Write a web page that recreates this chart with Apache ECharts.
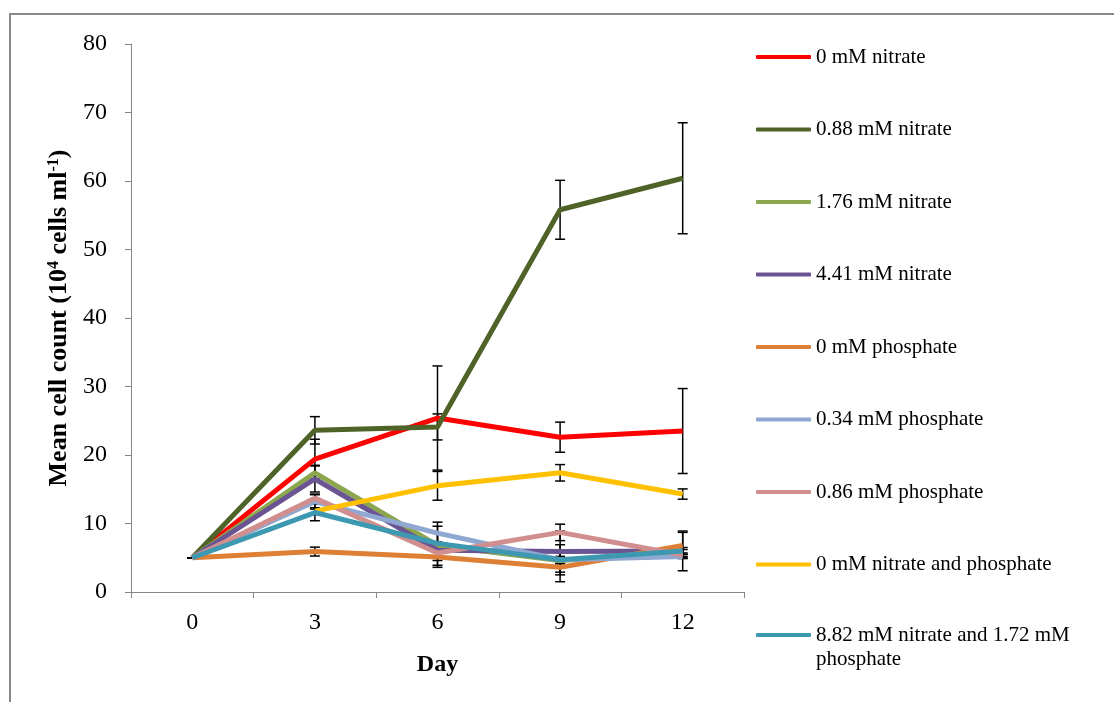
<!DOCTYPE html>
<html>
<head>
<meta charset="utf-8">
<script src="https://cdn.jsdelivr.net/npm/echarts@6/dist/echarts.min.js"></script>
<style>
html,body{margin:0;padding:0;background:#fff;}
#c{width:1114px;height:702px;}
</style>
</head>
<body>
<div id="c"></div>
<script>
// ---- data ----
var days = ['0', '3', '6', '9', '12'];
var yTicks = [0, 10, 20, 30, 40, 50, 60, 70, 80];

var names = [
  '0 mM nitrate',
  '0.88 mM nitrate',
  '1.76 mM nitrate',
  '4.41 mM nitrate',
  '0 mM phosphate',
  '0.34 mM phosphate',
  '0.86 mM phosphate',
  '0 mM nitrate and phosphate',
  '8.82 mM nitrate and 1.72 mM phosphate'
];

var nitrate0    = [5.0, 19.4, 25.4, 22.6, 23.5];
var nitrate088  = [5.0, 23.6, 24.1, 55.8, 60.4];
var nitrate176  = [5.0, 17.4, 6.8, 4.6, 5.7];
var nitrate441  = [5.0, 16.5, 6.1, 5.9, 6.0];
var phosphate0  = [5.0, 5.9, 5.1, 3.6, 6.8];
var phosphate034 = [5.0, 13.2, 8.6, 4.7, 5.2];
var phosphate086 = [5.0, 13.7, 5.7, 8.7, 5.4];
var bothZero    = [null, 11.8, 15.5, 17.4, 14.3];
var bothHigh    = [5.0, 11.6, 7.1, 4.7, 6.0];

var err_nitrate0    = [0, 2.9, 7.6, 2.2, 6.2];
var err_nitrate088  = [0, 2.0, 1.9, 4.3, 8.1];
var err_nitrate176  = [0, 1.1, 0.5, 0.5, 0.5];
var err_nitrate441  = [0, 1.9, 2.5, 3.0, 0.5];
var err_phosphate0  = [0, 0.65, 1.2, 2.1, 1.9];
var err_phosphate034 = [0, 1.1, 1.6, 0.5, 0.3];
var err_phosphate086 = [0, 0.5, 0.5, 1.2, 0.3];
var err_bothZero    = [0, 0.5, 2.1, 1.2, 0.75];
var err_bothHigh    = [0, 1.2, 2.5, 2.2, 2.9];

var colors = ['#FF0000', '#4F6228', '#8BA64D', '#6A5592', '#DD8036', '#8EA8D1', '#D18E8E', '#FFC000', '#3D99B1'];

var means = [nitrate0, nitrate088, nitrate176, nitrate441, phosphate0, phosphate034, phosphate086, bothZero, bothHigh];
var errs = [err_nitrate0, err_nitrate088, err_nitrate176, err_nitrate441, err_phosphate0, err_phosphate034, err_phosphate086, err_bothZero, err_bothHigh];

// ---- chart ----
var FONT = "'Liberation Serif', 'Times New Roman', serif";
var chart = echarts.init(document.getElementById('c'), null, {renderer: 'canvas'});

var series = [];
// error bars first (drawn under lines)
means.forEach(function (m, si) {
  var d = [];
  m.forEach(function (v, i) {
    if (v == null) return;
    d.push([i, v - errs[si][i], v + errs[si][i]]);
  });
  series.push({
    type: 'custom',
    name: names[si] + ' error',
    z: 1,
    silent: true,
    data: d,
    renderItem: function (params, api) {
      var x = api.value(0);
      var lo = api.coord([x, api.value(1)]);
      var hi = api.coord([x, api.value(2)]);
      var hw = 5;
      var st = {stroke: '#000', lineWidth: 1.5};
      return {
        type: 'group',
        children: [
          {type: 'line', shape: {x1: lo[0], y1: lo[1], x2: hi[0], y2: hi[1]}, style: st},
          {type: 'line', shape: {x1: lo[0] - hw, y1: lo[1], x2: lo[0] + hw, y2: lo[1]}, style: st},
          {type: 'line', shape: {x1: hi[0] - hw, y1: hi[1], x2: hi[0] + hw, y2: hi[1]}, style: st}
        ]
      };
    }
  });
});
means.forEach(function (m, si) {
  series.push({
    type: 'line',
    name: names[si],
    data: m,
    z: 2,
    symbol: 'none',
    showSymbol: false,
    connectNulls: false,
    lineStyle: {width: 5, color: colors[si]},
    itemStyle: {color: colors[si]}
  });
});

var option = {
  backgroundColor: '#fff',
  animation: false,
  textStyle: {fontFamily: FONT},
  grid: {left: 131, right: 370, top: 44, bottom: 110, containLabel: false},
  legend: [
    {
      data: names.slice(0, 8),
      orient: 'vertical',
      left: 751,
      top: 41,
      itemWidth: 55,
      itemHeight: 4,
      itemGap: 50.5,
      icon: 'roundRect',
      selectedMode: false,
      textStyle: {fontFamily: FONT, fontSize: 21, lineHeight: 22, color: '#000'}
    },
    {
      data: names.slice(8),
      orient: 'vertical',
      left: 751,
      top: 594,
      itemWidth: 55,
      itemHeight: 4,
      icon: 'roundRect',
      selectedMode: false,
      formatter: function (n) { return '\n' + n; },
      textStyle: {fontFamily: FONT, fontSize: 21, lineHeight: 24, color: '#000', width: 268, overflow: 'break'}
    }
  ],
  xAxis: {
    type: 'category',
    data: days,
    boundaryGap: true,
    name: 'Day',
    nameLocation: 'middle',
    nameGap: 61,
    nameTextStyle: {fontFamily: FONT, fontSize: 24, fontWeight: 'bold', color: '#000'},
    axisLine: {lineStyle: {color: '#868686', width: 1}},
    axisTick: {show: true, alignWithLabel: false, length: 6, lineStyle: {color: '#868686'}},
    axisLabel: {fontFamily: FONT, fontSize: 24, color: '#000', margin: 19},
    splitLine: {show: false}
  },
  yAxis: {
    type: 'value',
    min: yTicks[0],
    max: yTicks[yTicks.length - 1],
    interval: 10,
    name: '{t|Mean cell count (10}{s|4}{t| cells ml}{s|-1}{t|)}',
    nameLocation: 'middle',
    nameRotate: 90,
    nameGap: 54,
    nameTextStyle: {
      rich: {
        t: {fontFamily: FONT, fontSize: 26, fontWeight: 'bold', color: '#000'},
        s: {fontFamily: FONT, fontSize: 16, fontWeight: 'bold', color: '#000', padding: [0, 0, 11, 0]}
      }
    },
    axisLine: {show: true, lineStyle: {color: '#868686', width: 1}},
    axisTick: {show: true, length: 6, lineStyle: {color: '#868686'}},
    axisLabel: {fontFamily: FONT, fontSize: 24, color: '#000', margin: 24},
    splitLine: {show: false}
  },
  graphic: [
    {type: 'rect', silent: true, z: -10, shape: {x: 10, y: 14, width: 1300, height: 900}, style: {fill: null, stroke: '#888', lineWidth: 2}}
  ],
  series: series
};
chart.setOption(option);
</script>
</body>
</html>
